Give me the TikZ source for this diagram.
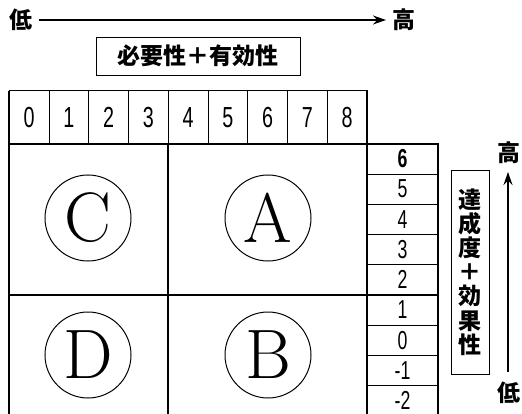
\documentclass[tikz,border=0pt]{standalone}
\usepackage{fontspec}
\usetikzlibrary{arrows.meta}
\newfontfamily\cjk{Noto Sans CJK JP}
\newfontfamily\digitfont{Liberation Sans}
\tikzset{
  cjklabel/.style={font=\cjk\bfseries\fontsize{23}{23}\selectfont, inner sep=0pt},
  titlebox/.style={draw, line width=0.9pt, inner sep=0pt, font=\cjk\bfseries\fontsize{23}{23}\selectfont},
  numcell/.style={draw, line width=0.9pt, minimum width=39.8pt, minimum height=53.3pt, inner sep=0pt},
  scalecell/.style={draw, line width=0.9pt, minimum width=71pt, minimum height=30.1pt, inner sep=0pt},
  letter/.style={circle, draw, line width=1pt, minimum size=86pt, inner sep=0pt, font=\fontsize{70}{70}\selectfont},
  major/.style={line width=1.6pt},
  axis/.style={line width=1.2pt, -{Stealth[length=13pt,width=9pt]}}
}
\newcommand{\cond}[2]{{\digitfont\fontsize{#1}{#1}\selectfont\scalebox{0.68}[1]{#2}}}
\begin{document}
\begin{tikzpicture}[x=1pt,y=-1pt]
\useasboundingbox (0,0) rectangle (522,414);
% top axis
\node[cjklabel] (lowh) at (21,20) {低};
\node[cjklabel] (highh) at (404,20) {高};
\draw[axis] (lowh.east) ++(6,0) coordinate (ha) -- (386,20) coordinate (hb);
% title box
\node[titlebox, minimum width=204pt, minimum height=38pt] (title) at (198,56) {必要性＋有効性};
% number row
\foreach \i in {0,...,8} {
  \node[numcell] (n\i) at ({29.1+39.75*\i},117.3) {\cond{29}{\i}};
}
% main grid
\coordinate (gtl) at (9,144);
\coordinate (gtr) at (367,144);
\coordinate (gbl) at (9,414);
\coordinate (gbr) at (367,414);
\coordinate (gmt) at (168,144);
\coordinate (gmb) at (168,414);
\coordinate (gml) at (9,295);
\coordinate (gmr) at (367,295);
\draw[major] (gtl) -- (gtr);
\draw[major] (gtl) -- (gbl);
\draw[major] (gtr) -- (gbr);
\draw[major] (gmt) -- (gmb);
\draw[major] (gml) -- (gmr);
\draw[line width=1.4pt] (9,90.7) -- (367,90.7);
\draw[line width=1.4pt] (9,90.7) -- (9,144);
\draw[line width=1.4pt] (168.3,90.7) -- (168.3,144);
\draw[line width=1.4pt] (367,90.7) -- (367,144);
% circles
\node[letter] (C) at (88,218) {C};
\node[letter] (A) at (268,218) {A};
\node[letter] (D) at (88,355) {D};
\node[letter] (B) at (268,355) {B};
% right scale
\node[scalecell] (s6) at (402.5,159) {\cond{26}{\bfseries 6}};
\node[scalecell] (s5) at (402.5,189.1) {\cond{26}{5}};
\node[scalecell] (s4) at (402.5,219.2) {\cond{26}{4}};
\node[scalecell] (s3) at (402.5,249.3) {\cond{26}{3}};
\node[scalecell] (s2) at (402.5,279.4) {\cond{26}{2}};
\node[scalecell] (s1) at (402.5,310) {\cond{26}{1}};
\node[scalecell] (s0) at (402.5,340.1) {\cond{26}{0}};
\node[scalecell] (sm1) at (402.5,370.2) {\cond{26}{-1}};
\node[scalecell] (sm2) at (402.5,400.3) {\cond{26}{-2}};
\draw[major] (367,144) -- (438,144);
\draw[major] (367,295) -- (438,295);
\draw[line width=1.3pt] (438,144) -- (438,414);
% vertical title box
\node[titlebox, minimum width=38pt, minimum height=204pt, align=center, font=\cjk\bfseries\fontsize{23}{24.2}\selectfont] (vtitle) at (470,272) {達\\成\\度\\＋\\効\\果\\性};
% vertical axis
\node[cjklabel] (highv) at (509,153) {高};
\node[cjklabel] (lowv) at (509,393) {低};
\draw[axis] (508,372) coordinate (va) -- (508,172) coordinate (vb);
\end{tikzpicture}
\end{document}
